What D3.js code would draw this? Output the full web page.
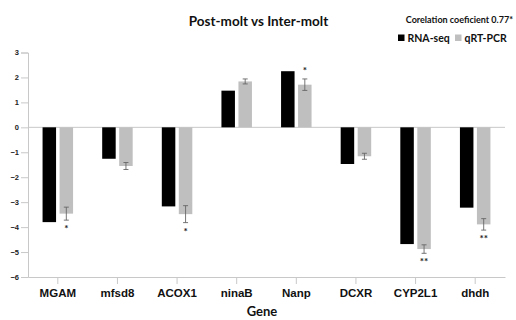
<!DOCTYPE html>
<html><head><meta charset="utf-8">
<script src="https://cdn.jsdelivr.net/npm/d3@7"></script>
<style>body{margin:0;background:#fff;} svg{display:block;font-family:Lato,"Open Sans",sans-serif;}</style>
</head><body>
<svg id="c" width="516" height="320"></svg>
<script>
const genes = ["MGAM","mfsd8","ACOX1","ninaB","Nanp","DCXR","CYP2L1","dhdh"];
const rnaSeq = [-3.80,-1.26,-3.17,1.47,2.25,-1.47,-4.68,-3.22];
const qpcr = [-3.46,-1.55,-3.48,1.84,1.71,-1.16,-4.88,-3.89];
const qpcrErr = [0.26,0.14,0.34,0.10,0.23,0.12,0.17,0.23];
const signif = ["*","","*","","*","","**","**"];
const yTicks = [3,2,1,0,-1,-2,-3,-4,-5,-6];
const seriesNames = ["RNA-seq","qRT-PCR"];
const colors = ["#000000","#bfbfbf"];

const svg = d3.select("#c");
const L = 28, R = 505, T = 52.5, B = 277;
const x = d3.scaleBand().domain(genes).range([L,R]);
const y = d3.scaleLinear().domain([-6,3]).range([B,T]);
const barW = 13.5, gap = 3.5;

// y axis
const ya = svg.append("g").attr("transform",`translate(${L},0)`)
  .call(d3.axisLeft(y).tickValues(yTicks).tickSize(7).tickFormat(d3.format("d")));
ya.select(".domain").attr("stroke","#c8c8c8");
ya.selectAll(".tick line").attr("stroke","#c8c8c8");
ya.selectAll(".tick text").attr("font-size",7.5).attr("font-weight","bold").attr("fill","#222").attr("x",-9);

// zero line
svg.append("line").attr("x1",L).attr("x2",R).attr("y1",y(0)).attr("y2",y(0)).attr("stroke","#c8c8c8").attr("stroke-width",1);

// x axis
const xa = svg.append("g").attr("transform",`translate(0,${B})`)
  .call(d3.axisBottom(x).tickSize(7).tickSizeOuter(0));
xa.select(".domain").attr("stroke","#c8c8c8");
xa.selectAll(".tick line").attr("stroke","#c8c8c8");
xa.selectAll(".tick text").attr("font-size",11.5).attr("font-weight","bold").attr("fill","#111").attr("y",10).attr("dy","0.9em");

const cx = g => x(g) + x.bandwidth()/2;

// bars
svg.append("g").selectAll("rect").data(genes).join("rect")
  .attr("x",g=>cx(g)-gap/2-barW).attr("width",barW)
  .attr("y",(g,i)=>y(Math.max(0,rnaSeq[i]))).attr("height",(g,i)=>Math.abs(y(rnaSeq[i])-y(0)))
  .attr("fill",colors[0]);
svg.append("g").selectAll("rect").data(genes).join("rect")
  .attr("x",g=>cx(g)+gap/2).attr("width",barW)
  .attr("y",(g,i)=>y(Math.max(0,qpcr[i]))).attr("height",(g,i)=>Math.abs(y(qpcr[i])-y(0)))
  .attr("fill",colors[1]);

// error bars
const eg = svg.append("g").attr("stroke","#666").attr("stroke-width",0.9);
genes.forEach((g,i)=>{
  const ex = cx(g)+gap/2+barW/2;
  const y1 = y(qpcr[i]+qpcrErr[i]), y2 = y(qpcr[i]-qpcrErr[i]);
  eg.append("line").attr("x1",ex).attr("x2",ex).attr("y1",y1).attr("y2",y2);
  eg.append("line").attr("x1",ex-2.5).attr("x2",ex+2.5).attr("y1",y1).attr("y2",y1);
  eg.append("line").attr("x1",ex-2.5).attr("x2",ex+2.5).attr("y1",y2).attr("y2",y2);
  if(signif[i]){
    const pos = qpcr[i] >= 0;
    const sy = pos ? y(qpcr[i]+qpcrErr[i]) - 5 : y(qpcr[i]-qpcrErr[i]) + 12;
    svg.append("text").attr("x",ex).attr("y",sy).attr("text-anchor","middle")
      .attr("font-size",10).attr("font-weight","bold").attr("fill","#222").text(signif[i]);
  }
});

// title
svg.append("text").attr("x",258.5).attr("y",26).attr("text-anchor","middle")
  .attr("font-size",13.5).attr("font-weight","bold").attr("fill","#111").text("Post-molt vs Inter-molt");
svg.append("text").attr("x",513).attr("y",23).attr("text-anchor","end")
  .attr("font-size",9).attr("font-weight","bold").attr("fill","#111").text("Corelation coeficient 0.77*");

// legend
const lg = svg.append("g");
const lx = [398, 455];
seriesNames.forEach((s,i)=>{
  lg.append("rect").attr("x",lx[i]).attr("y",34.5).attr("width",6.5).attr("height",6.5).attr("fill",colors[i]);
  lg.append("text").attr("x",lx[i]+9.5).attr("y",42).attr("font-size",10.5).attr("font-weight","bold").attr("fill","#111").text(s);
});

// x title
svg.append("text").attr("x",262).attr("y",316).attr("text-anchor","middle")
  .attr("font-size",13).attr("font-weight","bold").attr("fill","#111").text("Gene");
</script>
</body></html>
